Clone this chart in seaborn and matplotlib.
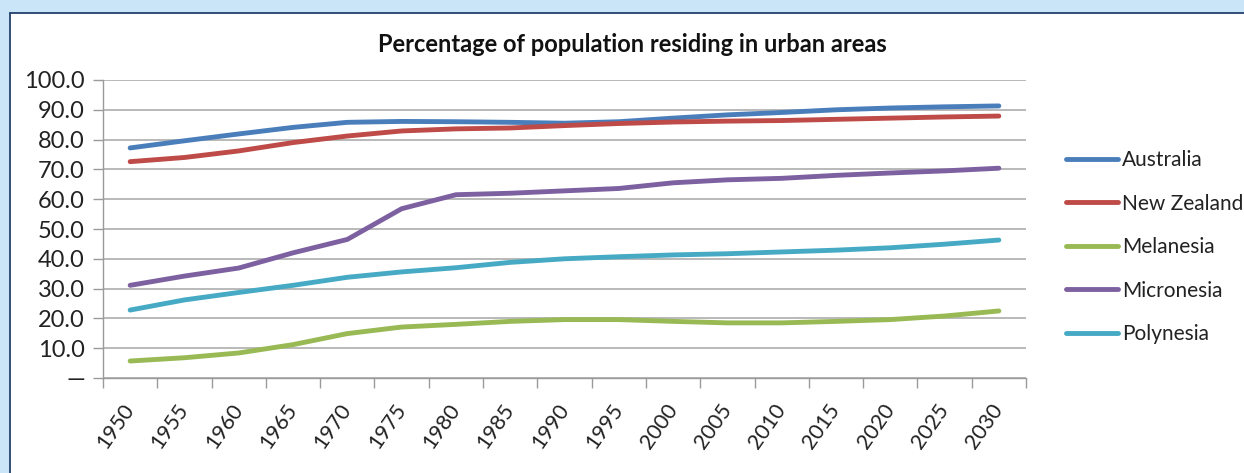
import matplotlib
matplotlib.use("Agg")
import matplotlib.pyplot as plt
import matplotlib.transforms as mtransforms
import seaborn as sns
import pandas as pd
from matplotlib.patches import Rectangle
from matplotlib.lines import Line2D

years = [1950, 1955, 1960, 1965, 1970, 1975, 1980, 1985, 1990, 1995,
         2000, 2005, 2010, 2015, 2020, 2025, 2030]
australia = [77.2, 79.6, 81.9, 84.1, 85.8, 86.1, 86.0, 85.8, 85.5, 86.0,
             87.2, 88.3, 89.1, 90.0, 90.6, 91.0, 91.3]
new_zealand = [72.6, 74.0, 76.2, 79.0, 81.2, 82.9, 83.6, 83.9, 84.7, 85.4,
               85.9, 86.2, 86.4, 86.8, 87.2, 87.6, 87.9]
melanesia = [5.7, 6.8, 8.4, 11.2, 14.9, 17.1, 18.0, 19.0, 19.6, 19.6,
             19.0, 18.5, 18.5, 19.0, 19.6, 20.8, 22.5]
micronesia = [31.1, 34.2, 36.9, 42.0, 46.5, 56.8, 61.5, 62.0, 62.8, 63.6,
              65.5, 66.5, 67.0, 68.0, 68.8, 69.5, 70.4]
polynesia = [22.8, 26.2, 28.7, 31.1, 33.8, 35.6, 37.0, 38.8, 40.0, 40.7,
             41.3, 41.7, 42.3, 42.9, 43.7, 44.9, 46.3]
series_names = ["Australia", "New Zealand", "Melanesia", "Micronesia", "Polynesia"]
colors = ["#4A7EBB", "#BE4B48", "#98B954", "#7D60A0", "#46AAC5"]
title = "Percentage of population residing in urban areas"
ytick_values = [0, 10, 20, 30, 40, 50, 60, 70, 80, 90, 100]
ytick_labels = ["\u2014"] + [f"{v:.1f}" for v in ytick_values[1:]]

rows = []
for name, vals in zip(series_names,
                      [australia, new_zealand, melanesia, micronesia, polynesia]):
    for y, v in zip(years, vals):
        rows.append({"Year": y, "Value": v, "Region": name})
df = pd.DataFrame(rows)

sns.set_theme(style="white")
plt.rcParams["font.family"] = ["Lato", "DejaVu Sans"]

W, H = 1244, 473
fig = plt.figure(figsize=(W / 100, H / 100), dpi=100)
fig.patch.set_facecolor("white")

# light blue frame strips
bcol = "#C9E5F7"
fig.patches.append(Rectangle((0, 0), 10 / W, 1, transform=fig.transFigure,
                             facecolor=bcol, edgecolor="none", zorder=0))
fig.patches.append(Rectangle((0, 1 - 13 / H), 1, 13 / H, transform=fig.transFigure,
                             facecolor=bcol, edgecolor="none", zorder=0))
fig.lines.append(Line2D([10 / W, 10 / W], [0, 1 - 13 / H], transform=fig.transFigure,
                        color="#23406B", lw=1.3))
fig.lines.append(Line2D([10 / W, 1], [1 - 13 / H, 1 - 13 / H], transform=fig.transFigure,
                        color="#23406B", lw=1.3))

ax = fig.add_axes([103 / W, 1 - 378 / H, (1026 - 103) / W, (378 - 80) / H])
ax.set_facecolor("white")

sns.lineplot(data=df, x="Year", y="Value", hue="Region", hue_order=series_names,
             palette=colors, linewidth=3.5, ax=ax, legend=False)

ax.set_xlim(1947.5, 2032.5)
ax.set_ylim(0, 100)
ax.set_yticks(ytick_values)
ax.set_yticklabels(ytick_labels, fontsize=17, color="#222222")
ax.set_xticks(years)
ax.set_xticklabels([str(y) for y in years], fontsize=15.5, color="#222222",
                   rotation=55, ha="right", va="center", rotation_mode="anchor")
shift = mtransforms.ScaledTranslation(6 / 100, 0, fig.dpi_scale_trans)
for lbl in ax.get_xticklabels():
    lbl.set_transform(lbl.get_transform() + shift)
ax.set_xticks([1947.5 + 5 * k for k in range(18)], minor=True)
ax.tick_params(axis="x", which="major", length=0, pad=20)
ax.tick_params(axis="x", which="minor", length=7, width=1, color="#9A9A9A",
               direction="out", bottom=True)
ax.tick_params(axis="y", length=7, width=1, color="#9A9A9A", direction="out",
               left=True, pad=6)
ax.grid(axis="y", color="#A6A6A6", linewidth=1.1)
ax.grid(axis="x", visible=False)
for s in ["top", "right"]:
    ax.spines[s].set_visible(False)
for s in ["left", "bottom"]:
    ax.spines[s].set_color("#9A9A9A")
    ax.spines[s].set_linewidth(1)
ax.set_xlabel("")
ax.set_ylabel("")

fig.text(632 / W, 1 - 45 / H, title, ha="center", va="center",
         fontsize=17, fontweight="bold", color="#111111")

handles = [Line2D([0], [0], color=c, lw=3.5) for c in colors]
fig.legend(handles, series_names, loc="upper left",
           bbox_to_anchor=(1066 / W, 1 - 150 / H), frameon=False,
           fontsize=15, handlelength=2.5, handletextpad=0.2,
           labelspacing=1.13, borderaxespad=0, borderpad=0,
           labelcolor="#222222")

fig.savefig("out.png", dpi=100, facecolor=fig.get_facecolor())
